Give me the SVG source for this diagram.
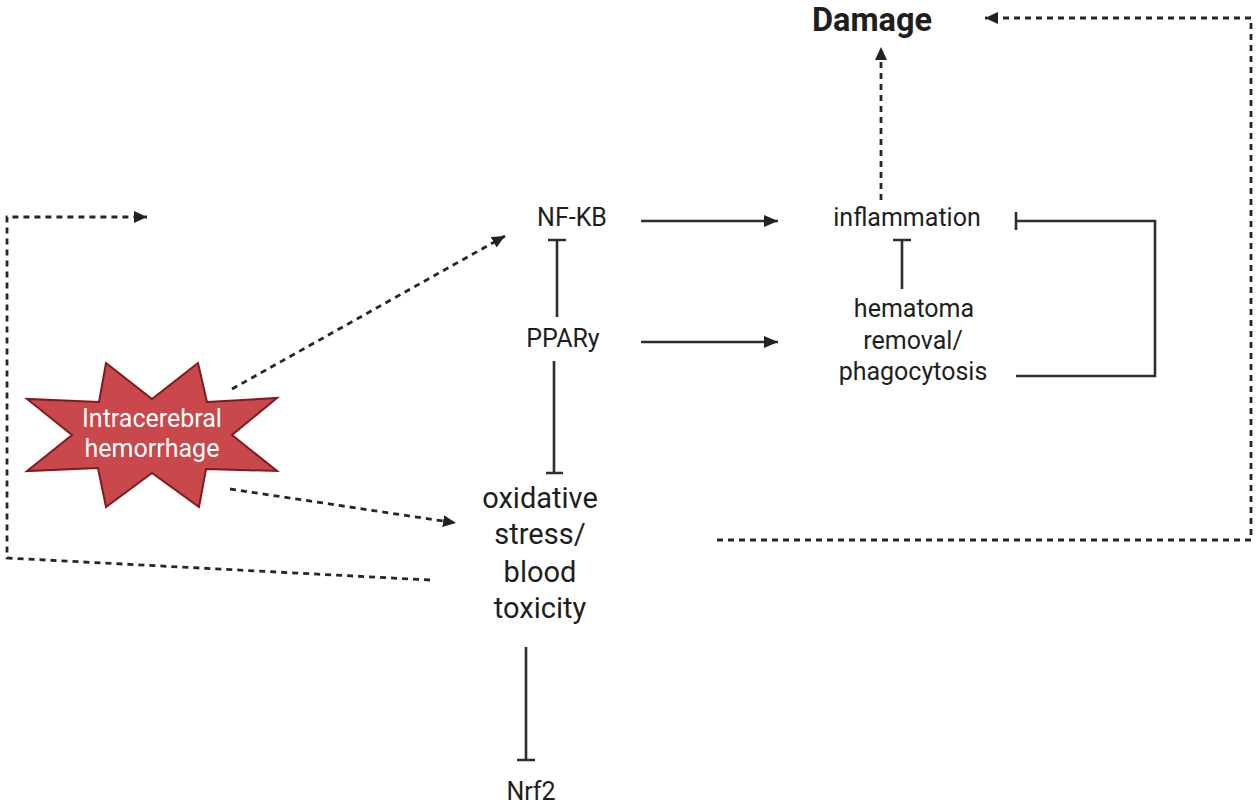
<svg xmlns="http://www.w3.org/2000/svg" width="1260" height="808" viewBox="0 0 1260 808">
<style>
  .t { font-family: Roboto, "Liberation Sans", sans-serif; fill: #1e1e1e; text-anchor: middle; }
  .n25 { font-size: 25px; }
  .n29 { font-size: 29px; }
  .bold { font-size: 32.5px; font-weight: 700; }
  .white { fill: #ffffff; font-size: 25px; }
  .solid { stroke: #2e2e2e; stroke-width: 2.6; fill: none; }
  .dash { stroke: #262626; stroke-width: 2.8; fill: none; stroke-dasharray: 6 5; }
  .star { fill: #c8484b; stroke: #7f1b1e; stroke-width: 2; stroke-linejoin: miter; }
</style>
<defs>
  <marker id="arr" markerUnits="userSpaceOnUse" markerWidth="16" markerHeight="14" refX="14" refY="6" orient="auto">
    <path d="M0,0 L14,6 L0,12 z" fill="#222"/>
  </marker>
  <marker id="arrd" markerUnits="userSpaceOnUse" markerWidth="16" markerHeight="14" refX="13" refY="6" orient="auto">
    <path d="M0,0 L13,6 L0,12 z" fill="#222"/>
  </marker>
</defs>
<rect width="1260" height="808" fill="#ffffff"/>

<g id="connectors">
  <path class="dash" d="M232,389 L505,236" marker-end="url(#arrd)"/>
  <path class="dash" d="M230,489 L456,523" marker-end="url(#arrd)"/>
  <path class="dash" d="M430,580 L7,558 L7,217 L147,217" marker-end="url(#arrd)"/>
  <path class="dash" d="M717,540 L1251,540 L1251,18 L985,18" marker-end="url(#arrd)"/>
  <path class="dash" d="M881,200 L881,47" marker-end="url(#arrd)"/>
  <path class="solid" d="M641,221 L778,221" marker-end="url(#arr)"/>
  <path class="solid" d="M641,342 L778,342" marker-end="url(#arr)"/>
  <path class="solid" d="M557,317 L557,240 M548,240 L566,240"/>
  <path class="solid" d="M554,361 L554,473 M546,473 L563,473"/>
  <path class="solid" d="M526,647 L526,760 M517,760 L535,760"/>
  <path class="solid" d="M902,289 L902,240 M893,240 L911,240"/>
  <path class="solid" d="M1016,376 L1155,376 L1155,221 L1016,221 M1016,212 L1016,230"/>
</g>

<g id="node-ich">
  <polygon class="star" points="106,363 152,399 198,363 207,402 277,398 232,435 277,471 206,469 199,507 152,473 106,507 98,468 27,471 72,435 27,399 99,402"/>
  <text class="t white" x="152" y="427">Intracerebral</text>
  <text class="t white" x="152" y="457">hemorrhage</text>
</g>

<g id="node-damage">
  <text class="t bold" x="872" y="31">Damage</text>
</g>

<g id="node-nfkb">
  <text class="t n25" x="572" y="226">NF-KB</text>
</g>

<g id="node-pparg">
  <text class="t n25" x="563" y="347">PPARy</text>
</g>

<g id="node-inflammation">
  <text class="t n25" x="907" y="226">inflammation</text>
</g>

<g id="node-hematoma">
  <text class="t n25" x="914" y="317">hematoma</text>
  <text class="t n25" x="913" y="349">removal/</text>
  <text class="t n25" x="913" y="380">phagocytosis</text>
</g>

<g id="node-oxidative">
  <text class="t n29" x="540" y="508">oxidative</text>
  <text class="t n29" x="540" y="544">stress/</text>
  <text class="t n29" x="540" y="582">blood</text>
  <text class="t n29" x="540" y="618">toxicity</text>
</g>

<g id="node-nrf2">
  <text class="t n25" x="531" y="800">Nrf2</text>
</g>
</svg>
